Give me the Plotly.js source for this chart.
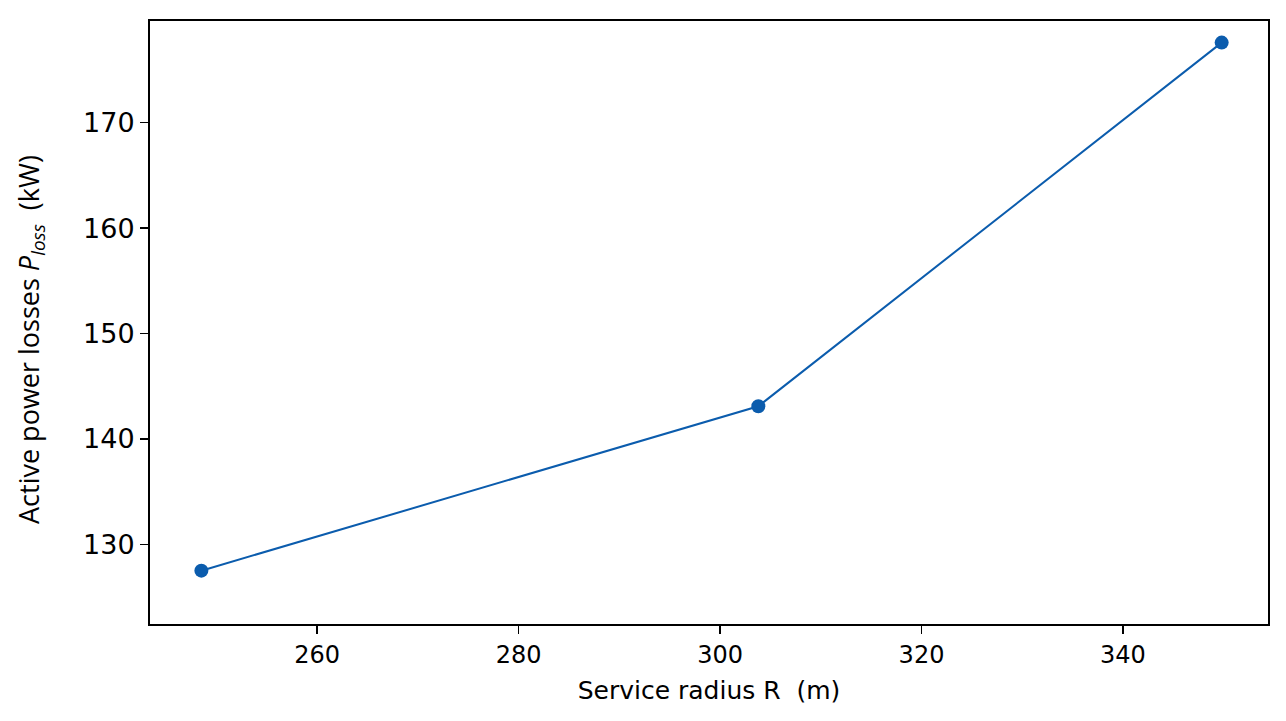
<!DOCTYPE html>
<html>
<head>
<meta charset="utf-8">
<script src="https://cdn.plot.ly/plotly-3.0.1.min.js"></script>
<style>html,body{margin:0;padding:0;background:#fff;}#chart{width:1286px;height:721px;}</style>
</head>
<body>
<div id="chart"></div>
<script>
const serviceRadius = [248.5, 303.8, 349.8];
const powerLosses = [127.5, 143.1, 177.6];
const xTicks = [260, 280, 300, 320, 340];
const yTicks = [130, 140, 150, 160, 170];
const xTitle = 'Service radius R  (m)';
const yTitle = 'Active power losses <i>P</i><sub><i>loss</i></sub>  (kW)';

const trace = {
  x: serviceRadius,
  y: powerLosses,
  type: 'scatter',
  mode: 'lines+markers',
  line: {color: '#0b5cad', width: 2},
  marker: {color: '#0b5cad', size: 14},
  showlegend: false
};

const layout = {
  width: 1286, height: 721,
  margin: {l: 150, r: 18, t: 21, b: 97},
  paper_bgcolor: '#fff', plot_bgcolor: '#fff',
  font: {family: 'DejaVu Sans, sans-serif', color: '#000'},
  xaxis: {
    range: [243.4, 354.4],
    tickvals: xTicks,
    ticktext: xTicks.map(String),
    ticks: 'outside', ticklen: 8, tickwidth: 1.5, tickcolor: '#000',
    showline: true, linecolor: '#000', linewidth: 2, mirror: true,
    showgrid: false, zeroline: false,
    tickfont: {size: 24, family: 'DejaVu Sans, sans-serif'},
    title: {text: xTitle, font: {size: 25, family: 'DejaVu Sans, sans-serif'}, standoff: 14}
  },
  yaxis: {
    range: [122.44, 179.65],
    tickvals: yTicks,
    ticktext: yTicks.map(String),
    ticks: 'outside', ticklen: 8, tickwidth: 1.5, tickcolor: '#000',
    showline: true, linecolor: '#000', linewidth: 2, mirror: true,
    showgrid: false, zeroline: false,
    tickfont: {size: 27, family: 'DejaVu Sans, sans-serif'}
  },
  annotations: [{
    text: yTitle,
    xref: 'paper', yref: 'paper',
    x: 0, y: 0.471, xanchor: 'center', yanchor: 'middle',
    xshift: -119, textangle: -90, showarrow: false,
    font: {size: 27, family: 'Open Sans, sans-serif', color: '#000'}
  }]
};

Plotly.newPlot('chart', [trace], layout, {displayModeBar: false, staticPlot: true});
</script>
</body>
</html>
